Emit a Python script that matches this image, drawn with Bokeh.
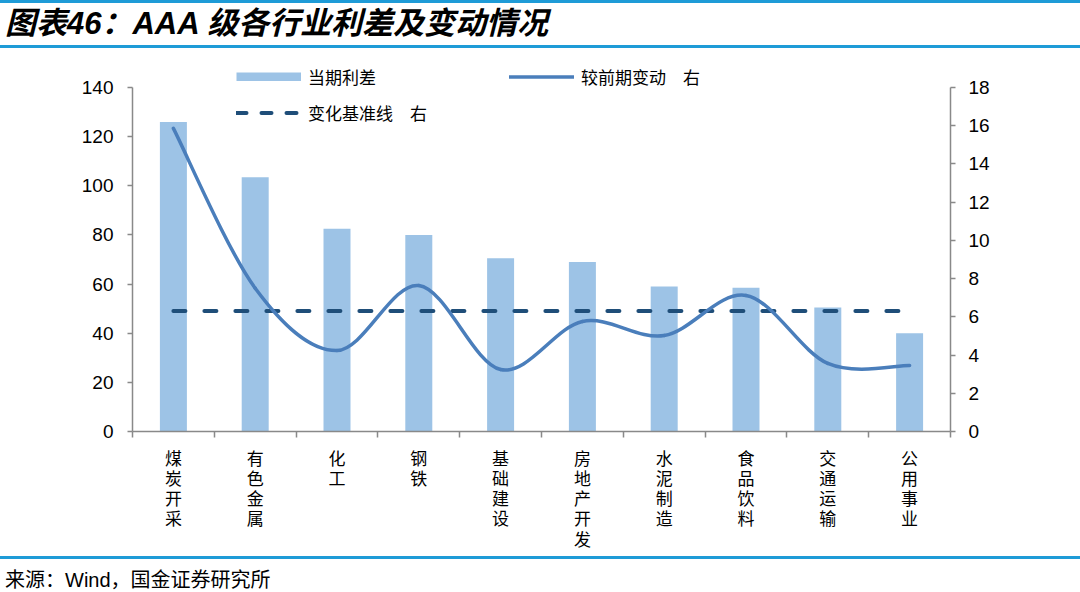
import numpy as np
from bokeh.plotting import figure
from bokeh.layouts import column
from bokeh.models import (Range1d, LinearAxis, FixedTicker, Legend, LegendItem, Div)
from bokeh.embed import file_html
from bokeh.resources import INLINE

# ---------------- data ----------------
categories = ["煤炭开采", "有色金属", "化工", "钢铁", "基础建设",
              "房地产开发", "水泥制造", "食品饮料", "交通运输", "公用事业"]
spread = [126, 103.5, 82.5, 80, 70.5, 69, 59, 58.5, 50.5, 40]          # 当期利差 (left)
change = [15.86, 7.5, 4.24, 7.64, 3.24, 5.76, 5.02, 7.12, 3.56, 3.45]  # 较前期变动 (right)
baseline = 6.3                                                         # 变化基准线 (right)
left_ticks = [0, 20, 40, 60, 80, 100, 120, 140]
right_ticks = [0, 2, 4, 6, 8, 10, 12, 14, 16, 18]

title_text = "图表46：AAA 级各行业利差及变动情况"
source_text = "来源：Wind，国金证券研究所"
legend_labels = ["当期利差", "较前期变动　右", "变化基准线　右"]

FONT_S = "'Liberation Sans', 'Noto Sans CJK SC', sans-serif"
BAR_C = "#9DC3E6"
LINE_C = "#4A7EBB"
DASH_C = "#1F4E79"
AXIS_C = "#898989"
RULE_C = "#1E9BD7"

n = len(categories)
xs = list(range(1, n + 1))
nan = [float("nan")]

# frame spans from canvas y=60 (fig y=10) to 431; axes end at the top tick (canvas 87)
frame_h, axis_h = 371.0, 344.0
p = figure(width=1080, height=506, output_backend="svg", toolbar_location=None,
           x_range=Range1d(0.5, n + 0.5),
           y_range=Range1d(left_ticks[0], left_ticks[-1] * frame_h / axis_h),
           min_border_left=132, min_border_right=130, min_border_top=10,
           min_border_bottom=125)
p.extra_y_ranges = {"right": Range1d(right_ticks[0], right_ticks[-1] * frame_h / axis_h)}
p.outline_line_color = None
p.xgrid.visible = False
p.ygrid.visible = False
p.background_fill_color = "white"
p.border_fill_color = "white"

# left axis
ya = p.yaxis[0]
ya.ticker = FixedTicker(ticks=left_ticks)
ya.bounds = (left_ticks[0], left_ticks[-1])
ya.axis_line_color = AXIS_C
ya.axis_line_width = 1.5
ya.major_tick_line_color = AXIS_C
ya.major_tick_line_width = 1.5
ya.major_tick_out = 5
ya.major_tick_in = 0
ya.minor_tick_line_color = None
ya.major_label_text_font = FONT_S
ya.major_label_text_font_size = "19px"
ya.major_label_text_color = "black"
ya.major_label_standoff = 14

# right axis
ra = LinearAxis(y_range_name="right", ticker=FixedTicker(ticks=right_ticks),
                bounds=(right_ticks[0], right_ticks[-1]))
ra.axis_line_color = AXIS_C
ra.axis_line_width = 1.5
ra.major_tick_line_color = AXIS_C
ra.major_tick_line_width = 1.5
ra.major_tick_out = 5
ra.major_tick_in = 0
ra.minor_tick_line_color = None
ra.major_label_text_font = FONT_S
ra.major_label_text_font_size = "19px"
ra.major_label_text_color = "black"
ra.major_label_standoff = 13
p.add_layout(ra, "right")

# bottom axis: labels at centers, ticks at boundaries (minor ticks)
xa = p.xaxis[0]
bounds = [i + 0.5 for i in range(0, n + 1)]
xa.ticker = FixedTicker(ticks=xs, minor_ticks=bounds)
xa.major_label_overrides = {x: "\n".join(c) for x, c in zip(xs, categories)}
xa.axis_line_color = AXIS_C
xa.axis_line_width = 1.5
xa.major_tick_line_color = None
xa.major_tick_out = 0
xa.major_tick_in = 0
xa.minor_tick_line_color = AXIS_C
xa.minor_tick_line_width = 1.5
xa.minor_tick_out = 6
xa.minor_tick_in = 0
xa.major_label_text_font = FONT_S
xa.major_label_text_font_size = "17px"
xa.major_label_text_color = "black"
xa.major_label_text_line_height = 1.07
xa.major_label_standoff = 12

# bars
p.vbar(x=xs, top=spread, width=0.33, color=BAR_C, line_color=None)

# baseline dashed
p.line(x=[xs[0], xs[-1]], y=[baseline, baseline], y_range_name="right",
       line_color=DASH_C, line_width=4, line_dash="12 19", line_cap="round")

# smoothed change line (Catmull-Rom -> cubic Bezier through the data points)
x0s, y0s, x1s, y1s, cx0s, cy0s, cx1s, cy1s = ([] for _ in range(8))
for i in range(n - 1):
    xa0, ya0 = xs[i], change[i]
    xa1, ya1 = xs[i + 1], change[i + 1]
    xm, ym = (xs[i - 1], change[i - 1]) if i > 0 else (xa0, ya0)
    xp, yp = (xs[i + 2], change[i + 2]) if i + 2 < n else (xa1, ya1)
    x0s.append(xa0); y0s.append(ya0); x1s.append(xa1); y1s.append(ya1)
    cx0s.append(xa0 + (xa1 - xm) / 6); cy0s.append(ya0 + (ya1 - ym) / 6)
    cx1s.append(xa1 - (xp - xa0) / 6); cy1s.append(ya1 - (yp - ya0) / 6)
p.bezier(x0=x0s, y0=y0s, x1=x1s, y1=y1s, cx0=cx0s, cy0=cy0s, cx1=cx1s, cy1=cy1s,
         y_range_name="right", line_color=LINE_C, line_width=3.5, line_cap="round")

# legend (swatch-only renderers holding a single NaN point); column-major order
r_bar = p.line(x=nan, y=nan, line_color=BAR_C, line_width=9, line_cap="butt")
r_line = p.line(x=nan, y=nan, line_color=LINE_C, line_width=3.5, line_cap="round")
r_dash = p.line(x=nan, y=nan, line_color=DASH_C, line_width=4, line_dash="10 15",
                line_cap="round")
legend = Legend(items=[LegendItem(label=legend_labels[0], renderers=[r_bar]),
                       LegendItem(label=legend_labels[2], renderers=[r_dash]),
                       LegendItem(label=legend_labels[1], renderers=[r_line])],
                ncols=2, location=(104, 306), glyph_width=65, glyph_height=9,
                label_height=20, label_width=190, spacing=11, padding=0, margin=0,
                label_standoff=7, border_line_color=None, background_fill_alpha=0,
                label_text_font=FONT_S, label_text_font_size="17px",
                label_text_color="black")
p.add_layout(legend, "center")

css_font = FONT_S.replace(chr(39), "")
title_div = Div(
    text=(f'<div style="box-sizing:border-box;width:1080px;height:48px;'
          f'border-top:3px solid {RULE_C};border-bottom:3px solid {RULE_C};'
          f'padding-left:5px;display:flex;align-items:center;'
          f'font-family:{css_font};font-size:31px;font-weight:bold;'
          f'font-style:italic;color:black;white-space:nowrap;">{title_text}</div>'),
    width=1080, height=50, margin=0)
source_div = Div(
    text=(f'<div style="box-sizing:border-box;width:1080px;height:36px;'
          f'border-top:3px solid {RULE_C};padding-left:5px;padding-top:11px;'
          f'font-family:{css_font};font-size:20px;line-height:20px;'
          f'color:black;white-space:nowrap;">{source_text}</div>'),
    width=1080, height=36, margin=0)

layout = column(title_div, p, source_div, spacing=0)
open("out.html", "w").write(file_html(layout, INLINE))
